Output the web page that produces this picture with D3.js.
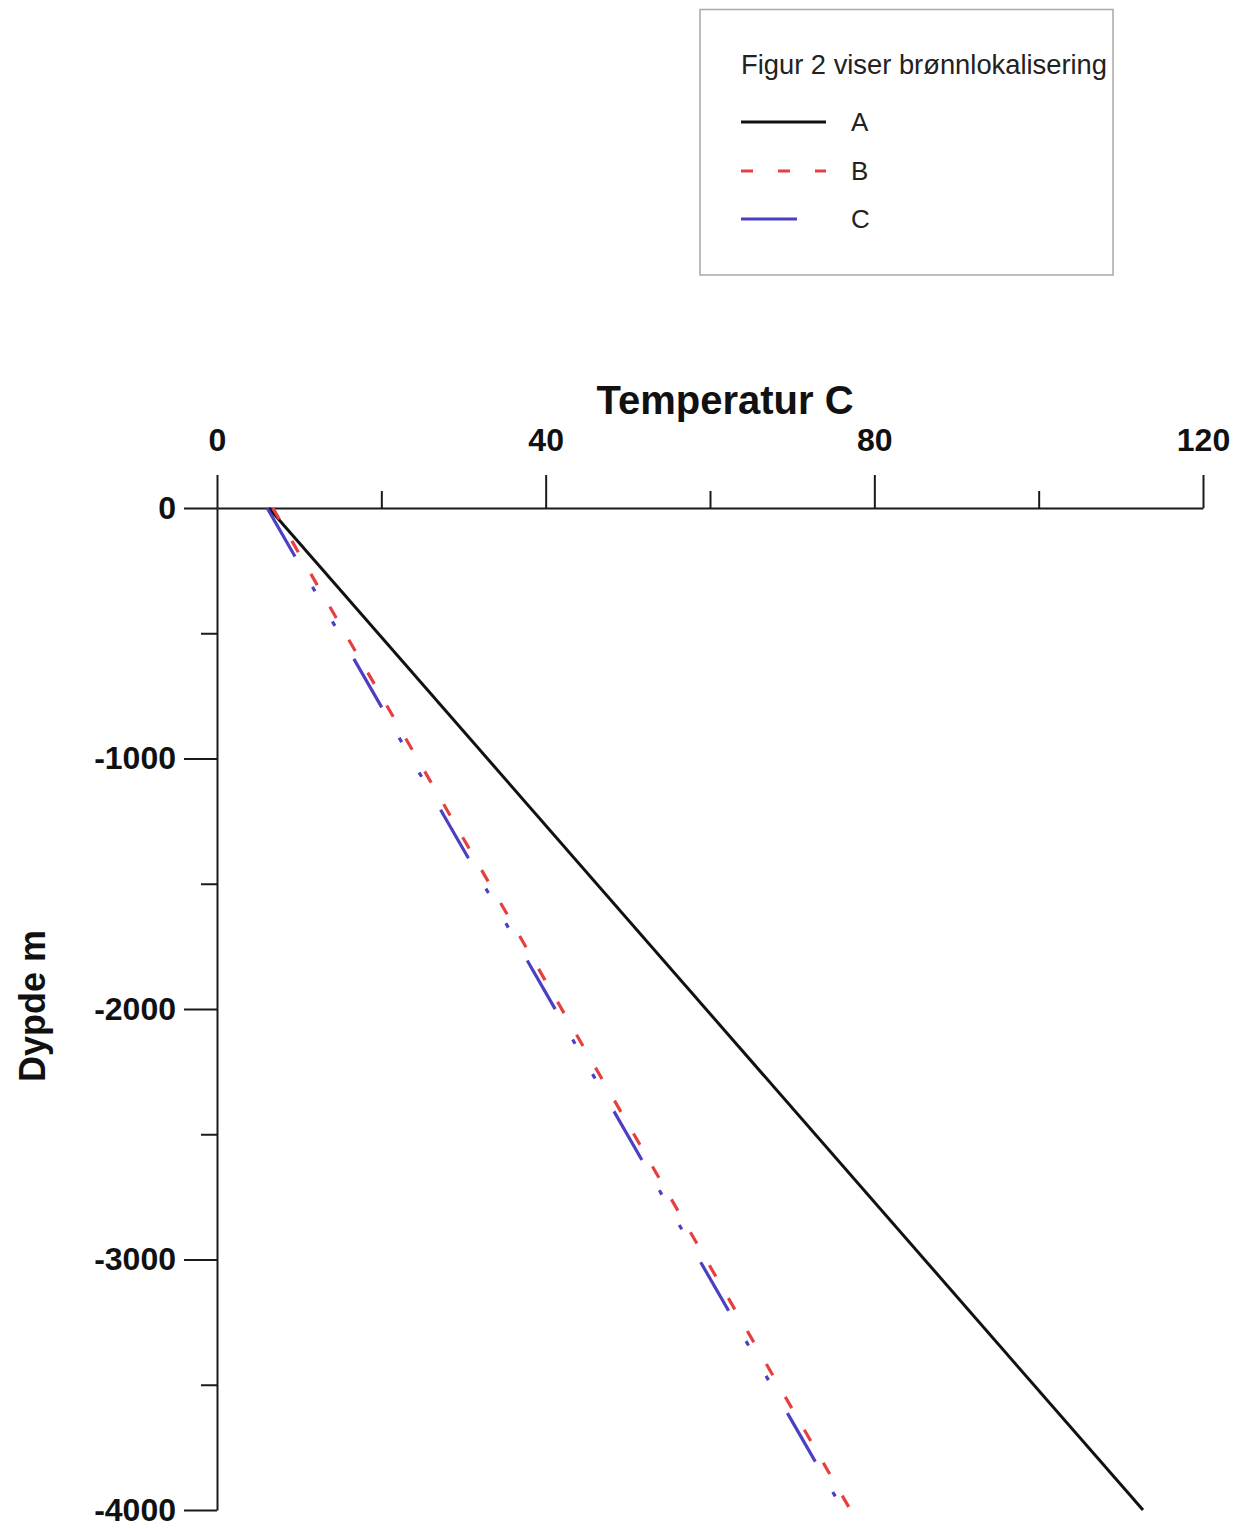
<!DOCTYPE html>
<html>
<head>
<meta charset="utf-8">
<script src="https://cdn.jsdelivr.net/npm/d3@7"></script>
<style>
  html, body { margin: 0; padding: 0; background: #fff; }
  svg { display: block; font-family: "Liberation Sans", Arial, sans-serif; }
</style>
</head>
<body>
<svg id="chart" width="1242" height="1529"></svg>
<script>
// ---- data ----
const depths = [0, -4000];
const tempA = [6.3, 112.7];
const tempB = [6.8, 77.1];
const tempC = [6.1, 76.2];
const seriesNames = ["A", "B", "C"];
const xMajorTicks = [0, 40, 80, 120];
const xMinorTicks = [20, 60, 100];
const yMajorTicks = [0, -1000, -2000, -3000, -4000];
const yMinorTicks = [-500, -1500, -2500, -3500];
const legendTitle = "Figur 2 viser brønnlokalisering";
const xTitle = "Temperatur C";
const yTitle = "Dypde m";

const colors = { A: "#111111", B: "#e5403f", C: "#4b3fc4" };
const dashes = { A: null, B: "13,25", C: "56,35,5,35,5,38" };

const svg = d3.select("#chart");
const x = d3.scaleLinear().domain([0, 120]).range([217, 1203]);
const y = d3.scaleLinear().domain([0, -4000]).range([508, 1510]);

// x axis (top)
const gx = svg.append("g").attr("transform", `translate(0,${y(0)})`);
gx.call(d3.axisTop(x).tickValues(xMajorTicks).tickSize(33).tickSizeOuter(0).tickPadding(24).tickFormat(d => String(d)));
const gxm = svg.append("g").attr("transform", `translate(0,${y(0)})`);
gxm.call(d3.axisTop(x).tickValues(xMinorTicks).tickSize(17).tickSizeOuter(0).tickFormat(""));
gxm.select(".domain").remove();

// y axis (left)
const gy = svg.append("g").attr("transform", `translate(${x(0)},0)`);
gy.call(d3.axisLeft(y).tickValues(yMajorTicks).tickSize(33).tickSizeOuter(0).tickPadding(8).tickFormat(d => String(d)));
const gym = svg.append("g").attr("transform", `translate(${x(0)},0)`);
gym.call(d3.axisLeft(y).tickValues(yMinorTicks).tickSize(16).tickSizeOuter(0).tickFormat(""));
gym.select(".domain").remove();

svg.selectAll(".domain, .tick line").attr("stroke", "#1a1a1a").attr("stroke-width", 2);
svg.selectAll(".tick text")
  .attr("fill", "#111")
  .attr("font-size", 32)
  .attr("font-weight", "bold")
  .attr("font-family", "Liberation Sans, Arial, sans-serif");

// axis titles
svg.append("text")
  .attr("x", 725).attr("y", 414)
  .attr("text-anchor", "middle")
  .attr("font-size", 40).attr("font-weight", "bold").attr("fill", "#111")
  .text(xTitle);
svg.append("text")
  .attr("transform", "translate(45,1006) rotate(-90)")
  .attr("text-anchor", "middle")
  .attr("font-size", 36).attr("font-weight", "bold").attr("fill", "#111")
  .text(yTitle);

// lines
const seriesTemps = { A: tempA, B: tempB, C: tempC };
const line = d3.line().x(d => x(d[0])).y(d => y(d[1]));
["A", "B", "C"].forEach(name => {
  const pts = depths.map((dep, i) => [seriesTemps[name][i], dep]);
  const p = svg.append("path")
    .datum(pts)
    .attr("d", line)
    .attr("fill", "none")
    .attr("stroke", colors[name])
    .attr("stroke-width", name === "A" ? 3 : 3.2);
  if (dashes[name]) p.attr("stroke-dasharray", dashes[name]);
});

// legend
const lg = svg.append("g");
lg.append("rect")
  .attr("x", 700).attr("y", 9.5).attr("width", 413).attr("height", 265.5)
  .attr("fill", "none").attr("stroke", "#a8a8a8").attr("stroke-width", 1.5);
lg.append("text")
  .attr("x", 741).attr("y", 74)
  .attr("font-size", 27).attr("fill", "#222")
  .attr("textLength", 366).attr("lengthAdjust", "spacingAndGlyphs")
  .text(legendTitle);
const legY = [122, 171, 219];
const labY = [131, 180, 228];
seriesNames.forEach((name, i) => {
  const l = lg.append("line")
    .attr("x1", 741).attr("x2", 826)
    .attr("y1", legY[i]).attr("y2", legY[i])
    .attr("stroke", colors[name]).attr("stroke-width", 3);
  if (dashes[name]) l.attr("stroke-dasharray", name === "B" ? "12,25" : dashes[name]);
  lg.append("text")
    .attr("x", 851).attr("y", labY[i])
    .attr("font-size", 26).attr("fill", "#222")
    .text(name);
});
</script>
</body>
</html>
